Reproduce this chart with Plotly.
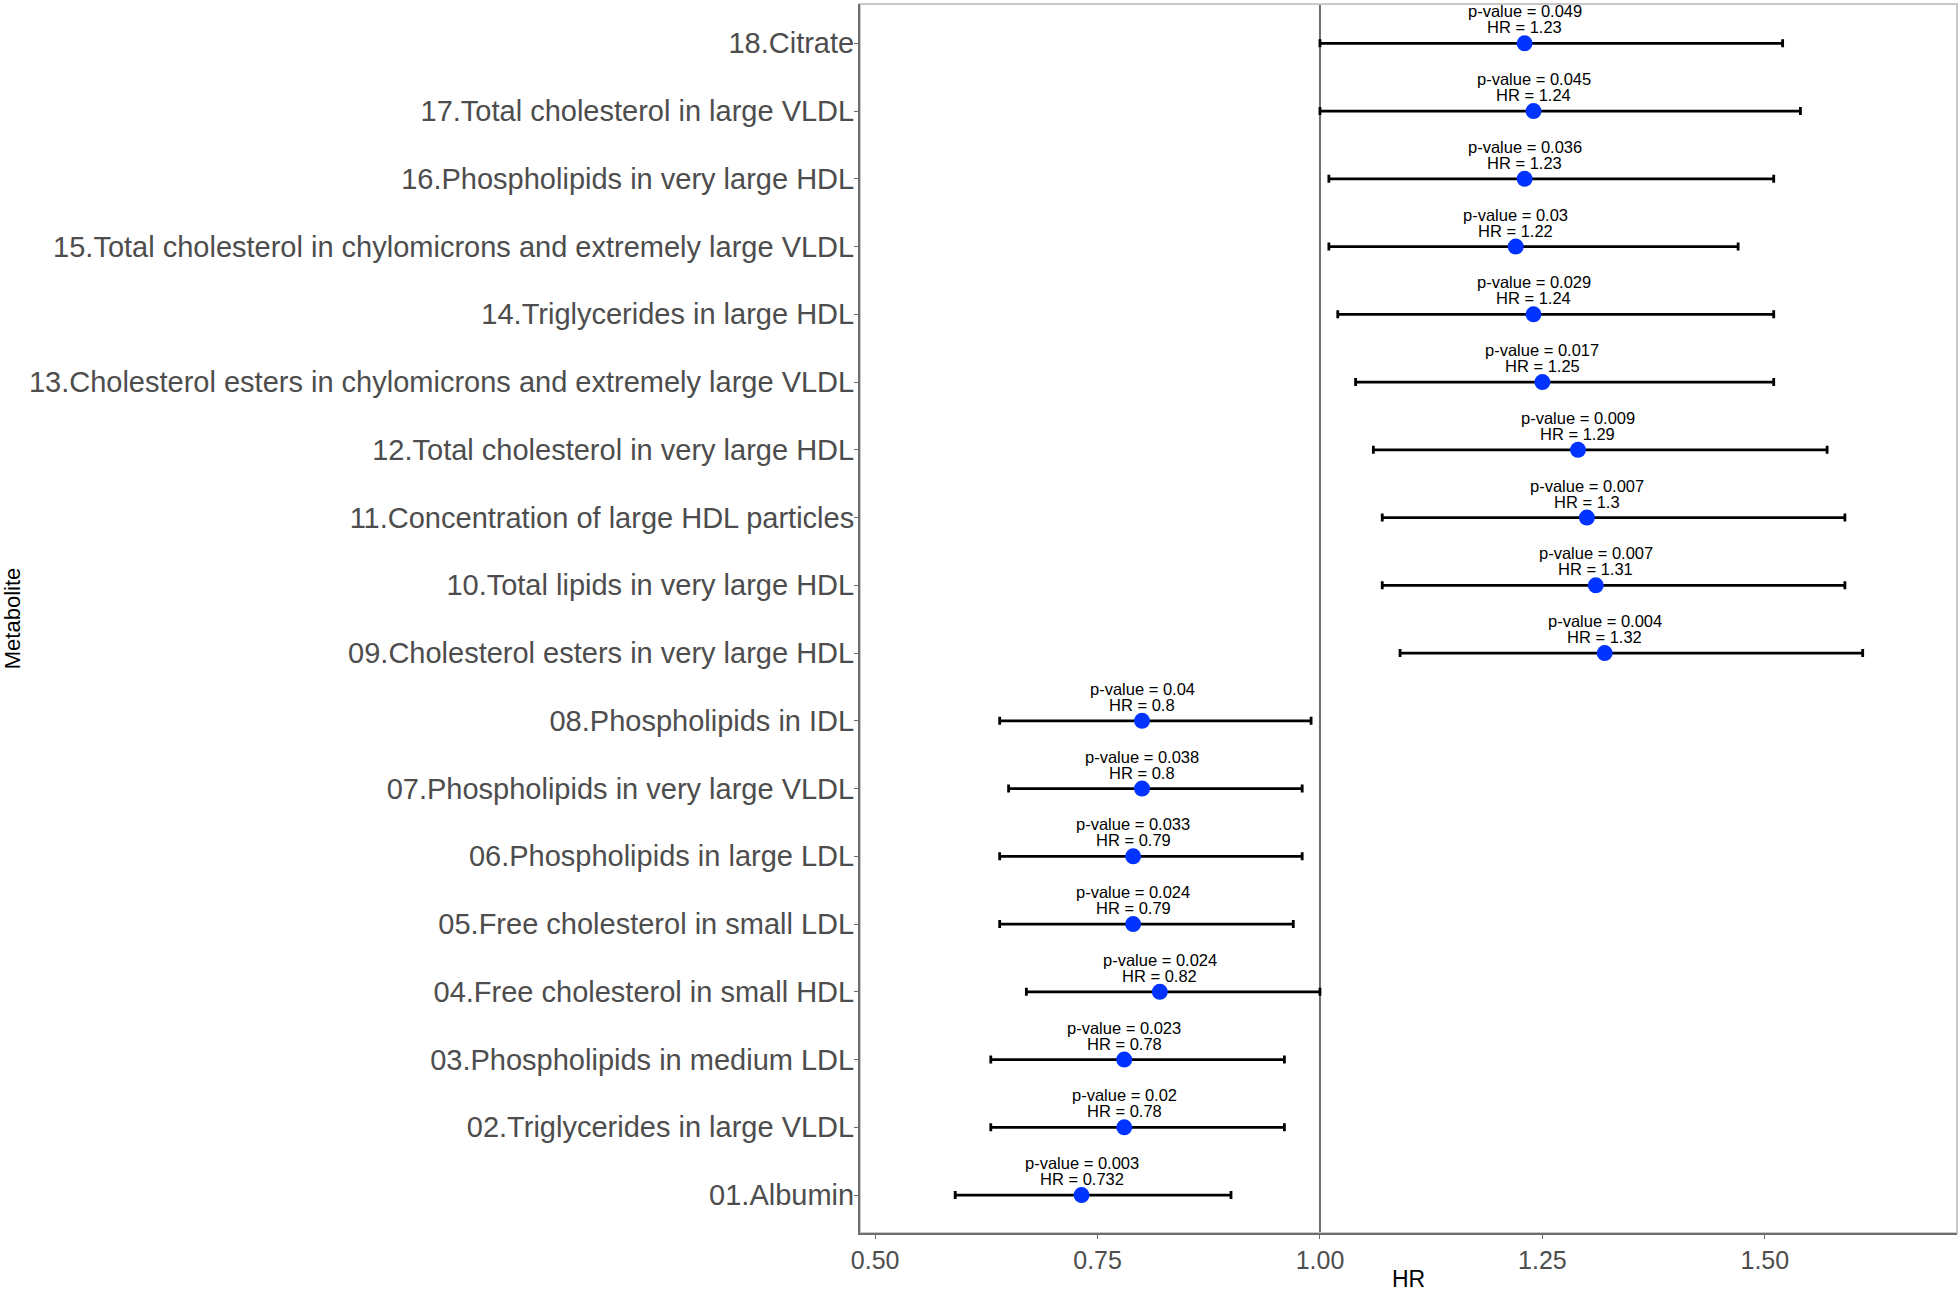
import plotly.graph_objects as go

metabolites = [
    "01.Albumin",
    "02.Triglycerides in large VLDL",
    "03.Phospholipids in medium LDL",
    "04.Free cholesterol in small HDL",
    "05.Free cholesterol in small LDL",
    "06.Phospholipids in large LDL",
    "07.Phospholipids in very large VLDL",
    "08.Phospholipids in IDL",
    "09.Cholesterol esters in very large HDL",
    "10.Total lipids in very large HDL",
    "11.Concentration of large HDL particles",
    "12.Total cholesterol in very large HDL",
    "13.Cholesterol esters in chylomicrons and extremely large VLDL",
    "14.Triglycerides in large HDL",
    "15.Total cholesterol in chylomicrons and extremely large VLDL",
    "16.Phospholipids in very large HDL",
    "17.Total cholesterol in large VLDL",
    "18.Citrate",
]
hr = [0.732, 0.78, 0.78, 0.82, 0.79, 0.79, 0.80, 0.80, 1.32, 1.31, 1.30, 1.29, 1.25, 1.24, 1.22, 1.23, 1.24, 1.23]
hr_labels = ["0.732", "0.78", "0.78", "0.82", "0.79", "0.79", "0.8", "0.8", "1.32", "1.31", "1.3", "1.29", "1.25", "1.24", "1.22", "1.23", "1.24", "1.23"]
ci_low = [0.59, 0.63, 0.63, 0.67, 0.64, 0.64, 0.65, 0.64, 1.09, 1.07, 1.07, 1.06, 1.04, 1.02, 1.01, 1.01, 1.00, 1.00]
ci_high = [0.90, 0.96, 0.96, 1.00, 0.97, 0.98, 0.98, 0.99, 1.61, 1.59, 1.59, 1.57, 1.51, 1.51, 1.47, 1.51, 1.54, 1.52]
p_values = ["0.003", "0.02", "0.023", "0.024", "0.024", "0.033", "0.038", "0.04", "0.004", "0.007", "0.007", "0.009", "0.017", "0.029", "0.03", "0.036", "0.045", "0.049"]
x_ticks = [0.50, 0.75, 1.00, 1.25, 1.50]
x_tick_labels = ["0.50", "0.75", "1.00", "1.25", "1.50"]

ypos = list(range(1, len(metabolites) + 1))
FONT = "Liberation Sans, Arial"

fig = go.Figure()
fig.add_trace(go.Scatter(
    x=hr, y=ypos, mode="markers",
    marker=dict(color="#0033FF", size=16, line=dict(width=0)),
    error_x=dict(type="data", symmetric=False,
                 array=[h - m for m, h in zip(hr, ci_high)],
                 arrayminus=[m - l for m, l in zip(hr, ci_low)],
                 color="black", thickness=2.8, width=4),
    showlegend=False,
))

for x, y, p, h in zip(hr, ypos, p_values, hr_labels):
    fig.add_annotation(x=x, y=y, xref="x", yref="y", text=f"p-value = {p}",
                       showarrow=False, yanchor="middle", yshift=32,
                       font=dict(family=FONT, size=16.5, color="black"))
    fig.add_annotation(x=x, y=y, xref="x", yref="y", text=f"HR = {h}",
                       showarrow=False, yanchor="middle", yshift=16,
                       font=dict(family=FONT, size=16.5, color="black"))

fig.add_vline(x=1.0, line=dict(color="#6e6e6e", width=2), layer="below")

# light panel border
fig.add_shape(type="rect", xref="paper", yref="paper", x0=0, x1=1, y0=0, y1=1,
              line=dict(color="#c8c8c8", width=2), layer="below")

fig.update_layout(
    width=1959, height=1292,
    margin=dict(l=860, r=2, t=4, b=47),
    plot_bgcolor="white", paper_bgcolor="white",
    font=dict(family=FONT),
    xaxis=dict(range=[0.483, 1.716], tickvals=x_ticks, ticktext=x_tick_labels,
               showgrid=False, zeroline=False,
               showline=True, linecolor="#6e6e6e", linewidth=2,
               ticks="outside", ticklen=4, tickcolor="#6e6e6e",
               tickfont=dict(size=25, color="#4d4d4d"),
               title=dict(text="HR", font=dict(size=23, color="black"), standoff=0)),
    yaxis=dict(range=[0.44, 18.58], tickvals=ypos, ticktext=metabolites,
               showgrid=False, zeroline=False,
               showline=True, linecolor="#6e6e6e", linewidth=2,
               ticks="outside", ticklen=4, tickcolor="#6e6e6e",
               ticklabelstandoff=-6,
               tickfont=dict(size=29, color="#4d4d4d"),
               title=dict(text="Metabolite", font=dict(size=22, color="black"), standoff=10)),
)

fig.write_html("out.html", config={"displayModeBar": False},
               post_script="document.body.style.margin='0';document.body.style.padding='0';")
